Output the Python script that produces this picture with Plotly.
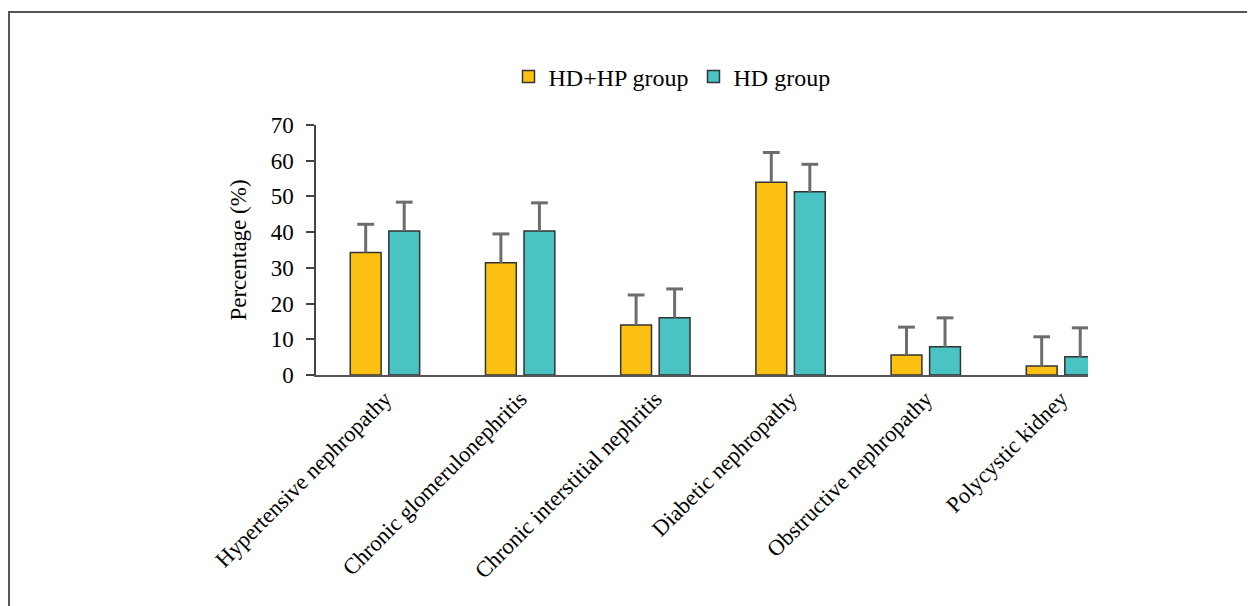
import plotly.graph_objects as go

categories = ["Hypertensive nephropathy", "Chronic glomerulonephritis",
              "Chronic interstitial nephritis", "Diabetic nephropathy",
              "Obstructive nephropathy", "Polycystic kidney"]
hd_hp = [34.3, 31.4, 14.0, 54.0, 5.6, 2.5]
hd_hp_err = [7.9, 8.1, 8.4, 8.3, 7.8, 8.2]
hd = [40.3, 40.3, 16.0, 51.3, 7.9, 5.1]
hd_err = [8.1, 7.9, 8.1, 7.7, 8.1, 8.1]
y_ticks = [0, 10, 20, 30, 40, 50, 60, 70]

FONT = "Liberation Serif, serif"
W, H = 1255, 606
L, R, T, B = 308, 175, 117, 239
pw, ph = W - L - R, H - T - B
BARGAP, GROUPGAP = 0.43, 0.2
ERR_COLOR = "#6d6d6d"

pos = list(range(len(categories)))
slot = (1 - BARGAP) / 2
series = [
    ("HD+HP group", hd_hp, hd_hp_err, "#FCC013", -slot / 2),
    ("HD group", hd, hd_err, "#4AC3C5", slot / 2),
]

fig = go.Figure()
for name, vals, errs, color, off in series:
    fig.add_trace(go.Bar(
        x=pos, y=vals, name=name,
        marker=dict(color=color, line=dict(color="#333333", width=1.5)),
    ))
for name, vals, errs, color, off in series:
    fig.add_trace(go.Scatter(
        x=[p + off for p in pos], y=[v + e for v, e in zip(vals, errs)],
        mode="markers", showlegend=False, hoverinfo="skip", cliponaxis=True,
        marker=dict(symbol="line-ew", size=12, color=ERR_COLOR,
                    line=dict(color=ERR_COLOR, width=3)),
        error_y=dict(type="data", symmetric=False, array=[0] * len(vals),
                     arrayminus=errs, color=ERR_COLOR, thickness=3, width=0),
    ))

fig.update_layout(
    width=W, height=H,
    margin=dict(l=L, r=R, t=T, b=B, pad=0),
    paper_bgcolor="white", plot_bgcolor="white",
    barmode="group", bargap=BARGAP, bargroupgap=GROUPGAP,
    font=dict(family=FONT, color="black", size=22),
    legend=dict(orientation="h", x=(664 - L) / pw, xanchor="center",
                y=(H - B - 69) / ph, yanchor="middle",
                font=dict(family=FONT, size=24, color="black"),
                itemwidth=30, traceorder="normal", tracegroupgap=0),
    xaxis=dict(
        range=[-0.51, 5.2], showgrid=False, zeroline=False,
        tickvals=pos, ticktext=categories,
        showline=True, linecolor="#555555", linewidth=1.5,
        ticks="", tickangle=-45, tickfont=dict(family=FONT, size=22.5),
    ),
    yaxis=dict(
        range=[0, 70], tickvals=y_ticks, showgrid=False, zeroline=False,
        showline=True, linecolor="#444444", linewidth=1.5,
        ticks="outside", ticklen=8, tickcolor="#444444", tickwidth=1.5,
        ticklabelstandoff=8,
        tickfont=dict(family=FONT, size=23),
        title=dict(text="Percentage (%)", font=dict(family=FONT, size=23), standoff=18),
    ),
    shapes=[dict(
        type="rect", xref="paper", yref="paper",
        x0=(1 - L) / pw, x1=(W + 20 - L) / pw,
        y0=(H - B - (H + 20)) / ph, y1=(H - B - 4) / ph,
        line=dict(color="#555555", width=2), fillcolor="rgba(0,0,0,0)", layer="below",
    )],
)

fig.write_html("out.html")
